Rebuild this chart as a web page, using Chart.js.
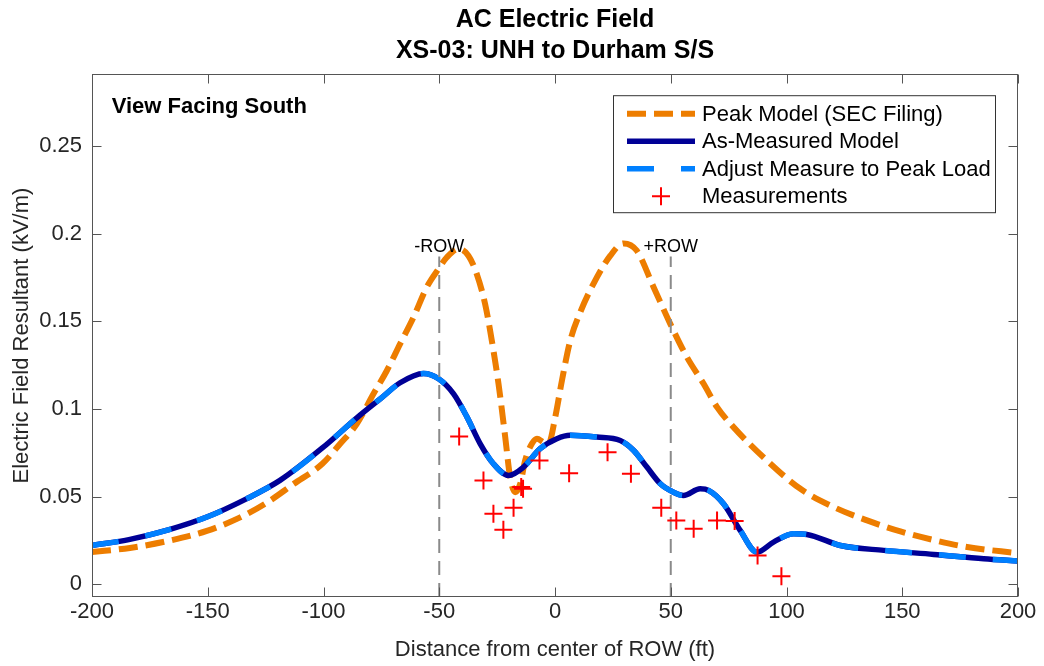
<!DOCTYPE html>
<html>
<head>
<meta charset="utf-8">
<title>AC Electric Field</title>
<script src="https://cdn.jsdelivr.net/npm/chart.js@4"></script>
<style>
  html, body { margin: 0; padding: 0; background: #fff; }
</style>
</head>
<body>
<canvas id="efChart" width="1044" height="666"></canvas>
<script>
// Peak Model (SEC Filing)
const peakX = [-200, -183.6, -167.7, -150.4, -136, -124.5, -113, -100.5, -92.8, -85.6, -78.4, -72.6, -66.9, -61.1, -55.4, -50.3, -46.7, -41.7, -37.4, -33.8, -30.2, -27.3, -24.4, -21.5, -19.4, -17.2, -15, -12.9, -10, -7.8, -5, -2.8, 0.1, 3, 6.6, 10.9, 16.6, 23.9, 29.6, 35.3, 42.6, 49.8, 57, 64.2, 70, 77.1, 91.5, 106, 120.4, 134.8, 149.2, 163.6, 178, 200];
const peakY = [0.0184, 0.0208, 0.0246, 0.0305, 0.0382, 0.0466, 0.0572, 0.0688, 0.0802, 0.0916, 0.1087, 0.122, 0.1372, 0.1524, 0.1695, 0.18, 0.1866, 0.1913, 0.1875, 0.1771, 0.16, 0.1391, 0.1144, 0.084, 0.0612, 0.0526, 0.0574, 0.0707, 0.0802, 0.0831, 0.0811, 0.0802, 0.0954, 0.1163, 0.1391, 0.1552, 0.1714, 0.1875, 0.1945, 0.1904, 0.1695, 0.1486, 0.1296, 0.1144, 0.1011, 0.0897, 0.0707, 0.0545, 0.0441, 0.0365, 0.0302, 0.0253, 0.0213, 0.0178];

// As-Measured Model
const modelX = [-200, -183.6, -166.3, -150.4, -133.1, -118.8, -100.5, -85.6, -75.5, -66.9, -56.8, -50.3, -43.8, -38, -32.3, -26.6, -20.1, -13.6, -6.4, 0.8, 6.6, 18.1, 28.2, 34, 39.7, 45.5, 51.2, 55.5, 62.7, 66.5, 72.8, 80, 87.2, 94.4, 103.1, 108.8, 123.3, 142, 163.6, 185.2, 200];
const modelY = [0.0222, 0.0257, 0.0314, 0.0384, 0.0489, 0.0593, 0.0778, 0.095, 0.1058, 0.115, 0.1203, 0.1173, 0.1087, 0.0954, 0.0802, 0.0688, 0.0621, 0.0669, 0.0774, 0.0831, 0.085, 0.084, 0.0821, 0.0764, 0.0669, 0.0574, 0.0526, 0.0507, 0.0545, 0.0535, 0.046, 0.0308, 0.0184, 0.0241, 0.0289, 0.0285, 0.0222, 0.0194, 0.0171, 0.0146, 0.0133];

// Adjust Measure to Peak Load (lies on top of the as-measured curve)
const adjustX = [-200, -183.6, -166.3, -150.4, -133.1, -118.8, -100.5, -85.6, -75.5, -66.9, -56.8, -50.3, -43.8, -38, -32.3, -26.6, -20.1, -13.6, -6.4, 0.8, 6.6, 18.1, 28.2, 34, 39.7, 45.5, 51.2, 55.5, 62.7, 66.5, 72.8, 80, 87.2, 94.4, 103.1, 108.8, 123.3, 142, 163.6, 185.2, 200];
const adjustY = [0.0222, 0.0257, 0.0314, 0.0384, 0.0489, 0.0593, 0.0778, 0.095, 0.1058, 0.115, 0.1203, 0.1173, 0.1087, 0.0954, 0.0802, 0.0688, 0.0621, 0.0669, 0.0774, 0.0831, 0.085, 0.084, 0.0821, 0.0764, 0.0669, 0.0574, 0.0526, 0.0507, 0.0545, 0.0535, 0.046, 0.0308, 0.0184, 0.0241, 0.0289, 0.0285, 0.0222, 0.0194, 0.0171, 0.0146, 0.0133];

// Measurements
const measX = [-41.4, -30.9, -26.6, -22.3, -17.9, -14.6, -13.8, -6.7, 6.1, 22.7, 32.8, 45.9, 52.4, 59.9, 70, 77.6, 87.5, 97.8];
const measY = [0.0844, 0.0593, 0.0403, 0.0312, 0.0437, 0.0555, 0.0545, 0.0707, 0.0634, 0.0754, 0.0631, 0.0437, 0.0365, 0.0317, 0.0365, 0.0361, 0.0165, 0.0047];

// right-of-way edges
const rowX = [-50, 50];
const rowLabels = ['-ROW', '+ROW'];
const rowTop = 0.187;
const rowLabelY = 0.1896;

const seriesLabels = ['Peak Model (SEC Filing)', 'As-Measured Model', 'Adjust Measure to Peak Load', 'Measurements'];
const chartTitle = ['AC Electric Field', 'XS-03: UNH to Durham S/S'];
const xTitle = 'Distance from center of ROW (ft)';
const yTitle = 'Electric Field Resultant (kV/m)';
const viewNote = 'View Facing South';
const viewNoteAt = [-191.5, 0.2689];

const xTicks = [-200, -150, -100, -50, 0, 50, 100, 150, 200];
const yTicks = [0, 0.05, 0.1, 0.15, 0.2, 0.25];
const yTickLabels = ['0', '0.05', '0.1', '0.15', '0.2', '0.25'];
const xMin = -200, xMax = 200, yMin = -0.0072, yMax = 0.291;

function pts(xs, ys) {
  return xs.map((x, i) => ({ x: x, y: ys[i] }));
}

Chart.defaults.font.family = '"Liberation Sans", Arial, Helvetica, sans-serif';
Chart.defaults.color = '#262626';

// MATLAB style box, inward ticks, legend and text notes
const axesBox = {
  id: 'axesBox',
  afterDatasetsDraw(chart) {
    const { ctx, chartArea: a, scales: { x, y } } = chart;
    const L = Math.round(a.left) + 0.5, R = Math.round(a.right) - 0.5;
    const T = Math.round(a.top) + 0.5, B = Math.round(a.bottom) - 0.5;
    const tk = 9;
    ctx.save();
    ctx.strokeStyle = '#555';
    ctx.lineWidth = 1;
    ctx.setLineDash([]);
    ctx.strokeRect(L, T, R - L, B - T);
    ctx.beginPath();
    xTicks.forEach(v => {
      const px = Math.round(x.getPixelForValue(v)) + 0.5;
      ctx.moveTo(px, B); ctx.lineTo(px, B - tk);
      ctx.moveTo(px, T); ctx.lineTo(px, T + tk);
    });
    yTicks.forEach(v => {
      const py = Math.round(y.getPixelForValue(v)) + 0.5;
      ctx.moveTo(L, py); ctx.lineTo(L + tk, py);
      ctx.moveTo(R, py); ctx.lineTo(R - tk, py);
    });
    ctx.stroke();

    // ROW labels
    ctx.fillStyle = '#000';
    ctx.font = '18px "Liberation Sans", Arial, sans-serif';
    ctx.textAlign = 'center';
    ctx.textBaseline = 'alphabetic';
    rowX.forEach((v, i) => {
      ctx.fillText(rowLabels[i], x.getPixelForValue(v), y.getPixelForValue(rowLabelY));
    });

    // view note
    ctx.font = 'bold 22px "Liberation Sans", Arial, sans-serif';
    ctx.textAlign = 'left';
    ctx.fillText(viewNote, x.getPixelForValue(viewNoteAt[0]), y.getPixelForValue(viewNoteAt[1]));

    // legend
    const lx = a.right - 405, ly = a.top + 21, lw = 382, lh = 117;
    ctx.fillStyle = '#fff';
    ctx.fillRect(lx, ly, lw, lh);
    ctx.strokeStyle = '#333';
    ctx.strokeRect(lx + 0.5, ly + 0.5, lw, lh);
    ctx.font = '22px "Liberation Sans", Arial, sans-serif';
    ctx.textBaseline = 'middle';
    seriesLabels.forEach((lab, i) => {
      const ds = chart.data.datasets.find(d => d.label === lab);
      const ry = ly + 18.5 + i * 27.5;
      const x0 = lx + 14, x1 = lx + 82;
      if (ds.showLine === false) {
        const cx = (x0 + x1) / 2, r = 9;
        ctx.setLineDash([]);
        ctx.strokeStyle = ds.pointBorderColor;
        ctx.lineWidth = ds.pointBorderWidth;
        ctx.beginPath();
        ctx.moveTo(cx - r, ry); ctx.lineTo(cx + r, ry);
        ctx.moveTo(cx, ry - r); ctx.lineTo(cx, ry + r);
        ctx.stroke();
      } else {
        ctx.setLineDash(ds.borderDash || []);
        ctx.strokeStyle = ds.borderColor;
        ctx.lineWidth = ds.borderWidth;
        ctx.lineCap = 'butt';
        ctx.beginPath();
        ctx.moveTo(x0, ry); ctx.lineTo(x1, ry);
        ctx.stroke();
      }
      ctx.setLineDash([]);
      ctx.fillStyle = '#000';
      ctx.fillText(lab, lx + 89, ry + 1);
    });
    ctx.restore();
  }
};

const curveBase = {
  showLine: true,
  fill: false,
  pointRadius: 0,
  borderWidth: 5.5,
  cubicInterpolationMode: 'monotone',
  clip: 0
};

const ctx = document.getElementById('efChart').getContext('2d');
const efChart = new Chart(ctx, {
  type: 'line',
  data: {
    datasets: [
      {
        label: seriesLabels[3],
        data: pts(measX, measY),
        showLine: false,
        pointStyle: 'cross',
        pointRadius: 9,
        pointBorderWidth: 2,
        pointBorderColor: '#ff0000',
        borderColor: '#ff0000',
        order: 0
      },
      {
        label: rowLabels[0],
        data: [{ x: rowX[0], y: yMin }, { x: rowX[0], y: rowTop }],
        borderColor: '#8a8a8a',
        borderWidth: 2,
        borderDash: [14, 8],
        pointRadius: 0,
        clip: 0,
        order: 1
      },
      {
        label: rowLabels[1],
        data: [{ x: rowX[1], y: yMin }, { x: rowX[1], y: rowTop }],
        borderColor: '#8a8a8a',
        borderWidth: 2,
        borderDash: [14, 8],
        pointRadius: 0,
        clip: 0,
        order: 1
      },
      Object.assign({}, curveBase, {
        label: seriesLabels[2],
        data: pts(adjustX, adjustY),
        borderColor: 'rgb(0,128,255)',
        borderDash: [27, 27],
        order: 2
      }),
      Object.assign({}, curveBase, {
        label: seriesLabels[1],
        data: pts(modelX, modelY),
        borderColor: 'rgb(0,0,150)',
        order: 3
      }),
      Object.assign({}, curveBase, {
        label: seriesLabels[0],
        data: pts(peakX, peakY),
        borderColor: 'rgb(237,125,0)',
        borderWidth: 6,
        borderDash: [19, 8],
        order: 4
      })
    ]
  },
  options: {
    responsive: false,
    animation: false,
    events: [],
    layout: { padding: { top: 0, left: 0, right: 26, bottom: 0 } },
    plugins: {
      legend: { display: false },
      tooltip: { enabled: false },
      title: {
        display: true,
        text: chartTitle,
        fullSize: false,
        color: '#000',
        font: { size: 25, weight: 'bold', lineHeight: 1.264 },
        padding: { top: 4, bottom: 7 }
      }
    },
    scales: {
      x: {
        type: 'linear',
        min: xMin,
        max: xMax,
        afterBuildTicks: s => { s.ticks = xTicks.map(v => ({ value: v })); },
        afterFit: s => { s.height = 69; },
        grid: { display: false, drawTicks: false },
        border: { display: false },
        ticks: {
          font: { size: 22 },
          padding: 2,
          maxRotation: 0,
          autoSkip: false,
          callback: v => String(v)
        },
        title: {
          display: true,
          text: xTitle,
          font: { size: 22 },
          padding: { top: 0, bottom: 3 }
        }
      },
      y: {
        type: 'linear',
        min: yMin,
        max: yMax,
        afterBuildTicks: s => { s.ticks = yTicks.map(v => ({ value: v })); },
        afterFit: s => { s.width = 92; },
        grid: { display: false, drawTicks: false },
        border: { display: false },
        ticks: {
          font: { size: 22 },
          padding: 10,
          autoSkip: false,
          callback: (v, i) => yTickLabels[i]
        },
        title: {
          display: true,
          text: yTitle,
          font: { size: 22 },
          padding: { top: 9, bottom: 0 }
        }
      }
    }
  },
  plugins: [axesBox]
});
</script>
</body>
</html>
